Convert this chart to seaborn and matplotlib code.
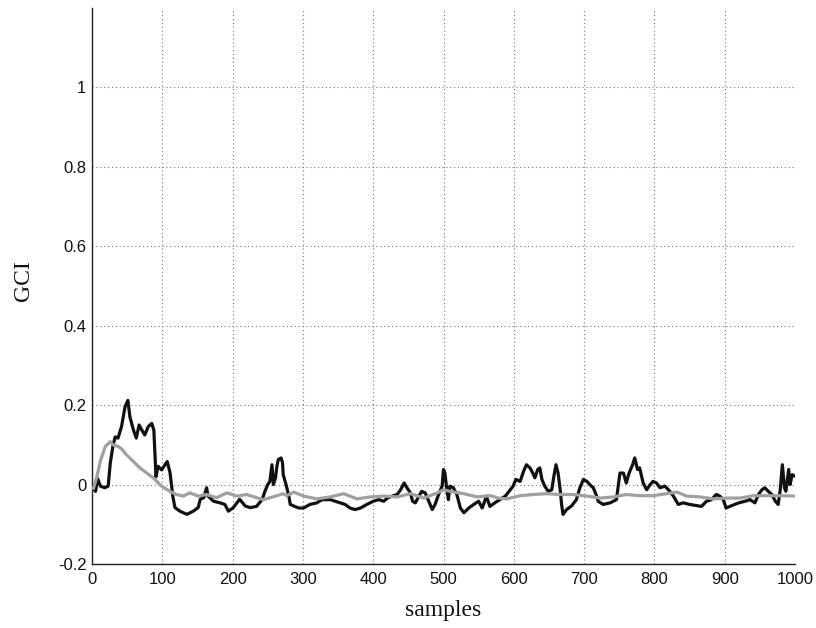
import matplotlib
matplotlib.use("Agg")
import matplotlib.pyplot as plt
import seaborn as sns
import pandas as pd

# GCI estimate (black, noisy) over samples
black_x = [2, 5, 8, 12, 18, 23, 26, 30, 33, 37, 42, 47, 51, 54, 59, 63, 67, 71, 75, 80,
           85, 88, 91, 94, 99, 107, 111, 115, 118, 125, 135, 144, 151, 154, 159, 163, 165,
           173, 182, 189, 194, 201, 210, 218, 225, 234, 242, 246, 250, 253, 256, 258, 261,
           263, 265, 269, 271, 272, 276, 280, 282, 287, 294, 301, 310, 320, 327, 339, 346,
           353, 360, 367, 374, 382, 391, 400, 408, 415, 420, 427, 434, 439, 444, 448, 453,
           456, 460, 465, 469, 474, 479, 484, 488, 493, 498, 500, 502, 505, 507, 509, 514,
           519, 524, 529, 536, 543, 550, 555, 557, 561, 566, 573, 580, 588, 595, 599, 603,
           609, 614, 618, 623, 627, 630, 634, 637, 640, 644, 649, 654, 657, 660, 663, 666,
           668, 670, 675, 682, 689, 694, 699, 704, 708, 713, 717, 720, 727, 737, 746, 751,
           756, 760, 764, 769, 772, 776, 779, 784, 789, 794, 798, 803, 808, 815, 822, 827,
           834, 841, 850, 860, 867, 874, 881, 888, 893, 898, 902, 910, 920, 929, 936, 943,
           948, 953, 957, 962, 967, 972, 976, 979, 982, 985, 987, 991, 993, 996, 1000]
black_y = [-0.010, -0.017, 0.015, -0.004, -0.008, -0.004, 0.054, 0.100, 0.120, 0.117,
           0.146, 0.196, 0.212, 0.170, 0.137, 0.117, 0.150, 0.137, 0.125, 0.146,
           0.154, 0.137, 0.020, 0.046, 0.037, 0.058, 0.030, -0.030, -0.058, -0.067,
           -0.075, -0.067, -0.058, -0.037, -0.033, -0.008, -0.029, -0.042, -0.046, -0.050,
           -0.067, -0.058, -0.037, -0.054, -0.058, -0.055, -0.038, -0.017, 0.000, 0.008,
           0.050, 0.000, 0.017, 0.046, 0.063, 0.067, 0.055, 0.025, 0.000, -0.029,
           -0.050, -0.054, -0.059, -0.059, -0.050, -0.046, -0.038, -0.038, -0.042, -0.046,
           -0.050, -0.059, -0.063, -0.059, -0.050, -0.042, -0.038, -0.042, -0.034, -0.029,
           -0.025, -0.013, 0.004, -0.008, -0.021, -0.042, -0.046, -0.029, -0.017, -0.021,
           -0.042, -0.063, -0.050, -0.025, -0.004, 0.038, 0.029, -0.017, -0.038, -0.004,
           -0.008, -0.025, -0.059, -0.071, -0.059, -0.050, -0.042, -0.059, -0.050, -0.029,
           -0.055, -0.046, -0.038, -0.029, -0.013, -0.004, 0.013, 0.008, 0.034, 0.050,
           0.042, 0.029, 0.017, 0.038, 0.042, 0.013, -0.004, -0.017, -0.013, 0.021,
           0.050, 0.029, -0.013, -0.050, -0.075, -0.063, -0.054, -0.038, -0.008, 0.013,
           0.008, 0.000, -0.008, -0.025, -0.042, -0.050, -0.046, -0.038, 0.029, 0.029,
           0.004, 0.029, 0.050, 0.067, 0.038, 0.042, 0.004, -0.013, 0.000, 0.008,
           0.004, -0.008, -0.004, -0.017, -0.029, -0.050, -0.046, -0.050, -0.053, -0.055,
           -0.042, -0.038, -0.025, -0.029, -0.038, -0.059, -0.053, -0.046, -0.042, -0.038,
           -0.046, -0.025, -0.013, -0.008, -0.017, -0.025, -0.042, -0.050, -0.013, 0.050,
           -0.008, -0.017, 0.038, 0.000, 0.025, 0.021]

# GCI estimate (gray, smoothed) over samples
gray_x = [2, 7, 12, 19, 26, 30, 37, 42, 49, 59, 68, 78, 87, 99, 111, 120, 130, 139, 151,
          163, 177, 192, 206, 220, 234, 244, 263, 272, 277, 287, 301, 320, 339, 358, 377,
          396, 415, 434, 453, 472, 491, 500, 509, 529, 548, 567, 578, 590, 609, 628, 647,
          666, 685, 704, 723, 742, 760, 779, 798, 817, 832, 846, 865, 884, 903, 922, 941,
          960, 979, 1000]
gray_y = [-0.010, 0.020, 0.060, 0.096, 0.108, 0.100, 0.096, 0.090, 0.075, 0.058,
          0.042, 0.029, 0.017, -0.004, -0.017, -0.025, -0.029, -0.021, -0.029, -0.025,
          -0.033, -0.021, -0.029, -0.025, -0.033, -0.038, -0.028, -0.023, -0.028, -0.019,
          -0.029, -0.036, -0.031, -0.023, -0.036, -0.031, -0.029, -0.031, -0.023, -0.034,
          -0.021, -0.013, -0.017, -0.023, -0.031, -0.028, -0.034, -0.036, -0.028, -0.025,
          -0.023, -0.025, -0.025, -0.029, -0.034, -0.031, -0.025, -0.028, -0.028, -0.023,
          -0.019, -0.029, -0.031, -0.036, -0.034, -0.034, -0.028, -0.028, -0.028, -0.029]

x_ticks = [0, 100, 200, 300, 400, 500, 600, 700, 800, 900, 1000]
y_ticks = [-0.2, 0, 0.2, 0.4, 0.6, 0.8, 1]
y_tick_labels = ["-0.2", "0", "0.2", "0.4", "0.6", "0.8", "1"]

sns.set_style("white")
plt.rcParams["font.family"] = ["Liberation Sans", "DejaVu Sans"]

fig = plt.figure(figsize=(8.16, 6.28), dpi=100)
ax = fig.add_axes([92 / 816, 64 / 628, 703 / 816, 556 / 628])

black_df = pd.DataFrame({"samples": black_x, "GCI": black_y})
gray_df = pd.DataFrame({"samples": gray_x, "GCI": gray_y})

sns.lineplot(data=gray_df, x="samples", y="GCI", ax=ax, color="#a0a0a0",
             linewidth=2.3, sort=False, zorder=3)
sns.lineplot(data=black_df, x="samples", y="GCI", ax=ax, color="#111111",
             linewidth=2.3, sort=False, zorder=2)

ax.set_xlim(0, 1000)
ax.set_ylim(-0.2, 1.2)
ax.set_xticks(x_ticks)
ax.set_xticklabels([str(t) for t in x_ticks])
ax.set_yticks(y_ticks)
ax.set_yticklabels(y_tick_labels)

ax.grid(True, color="#777777", linestyle=(0, (1, 2.5)), linewidth=0.8)
for spine in ["top", "right"]:
    ax.spines[spine].set_visible(False)
for spine in ["left", "bottom"]:
    ax.spines[spine].set_color("#222222")
    ax.spines[spine].set_linewidth(1.0)

ax.tick_params(axis="both", direction="in", length=4, width=0.8, colors="#222222",
               labelsize=12, labelcolor="#111111")
ax.tick_params(axis="x", pad=6)
ax.tick_params(axis="y", pad=4)

ax.set_xlabel("samples", family="Liberation Serif", fontsize=17, color="#111111")
ax.set_ylabel("GCI", family="Liberation Serif", fontsize=17, color="#111111")
ax.xaxis.set_label_coords(0.5, -0.083)
ax.yaxis.set_label_coords(-0.097, 0.51)
ax.xaxis.label.set_va("center")
ax.yaxis.label.set_va("center")

fig.savefig("out.png", dpi=100)
